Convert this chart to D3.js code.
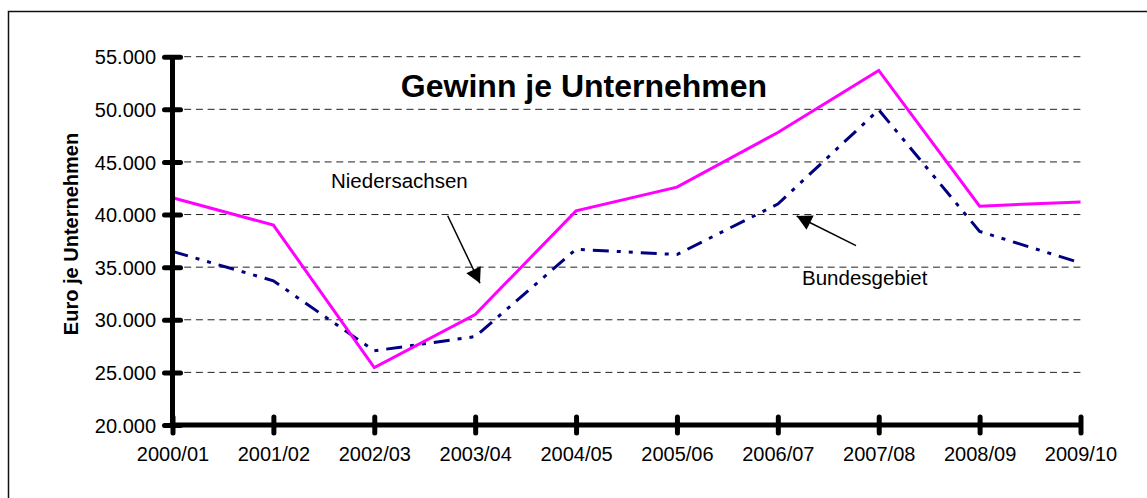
<!DOCTYPE html>
<html>
<head>
<meta charset="utf-8">
<script src="https://d3js.org/d3.v7.min.js"></script>
<style>
  body { margin: 0; background: #fff; }
  text { font-family: Arial, "Liberation Sans", sans-serif; fill: #000; }
</style>
</head>
<body>
<script>
// Werte
var years = ["2000/01", "2001/02", "2002/03", "2003/04", "2004/05",
             "2005/06", "2006/07", "2007/08", "2008/09", "2009/10"];
var niedersachsen = [41600, 39000, 25450, 30500, 40350, 42600, 47800, 53700, 40800, 41200];
var bundesgebiet  = [36500, 33700, 27050, 28400, 36700, 36200, 41000, 49950, 38400, 35400];
var yTicks = [20000, 25000, 30000, 35000, 40000, 45000, 50000, 55000];

var width = 1147, height = 498;

var svg = d3.select("body").append("svg")
    .attr("width", width)
    .attr("height", height);

// Rahmen (rechts/unten ausserhalb des Bildes)
svg.append("rect")
    .attr("x", 8.5).attr("y", 11.5)
    .attr("width", 1300).attr("height", 700)
    .attr("fill", "none")
    .attr("stroke", "#111")
    .attr("stroke-width", 1.5);

var x = d3.scalePoint().domain(years).range([172.5, 1080.5]);
var y = d3.scaleLinear().domain([20000, 55000]).range([425, 56.7]);

// deutsches Zahlenformat: 55.000
function yLabel(d) { return (d / 1000) + ".000"; }

// Gitterlinien
svg.append("g").selectAll("line")
    .data(yTicks.slice(1))
    .enter().append("line")
    .attr("x1", x(years[0])).attr("x2", x(years[years.length - 1]))
    .attr("y1", d => y(d)).attr("y2", d => y(d))
    .attr("stroke", "#222")
    .attr("stroke-width", 1)
    .attr("stroke-dasharray", "7,4.7");

// Linien
var line = d3.line()
    .x((d, i) => x(years[i]))
    .y(d => y(d));

svg.append("path")
    .datum(bundesgebiet)
    .attr("d", line)
    .attr("fill", "none")
    .attr("stroke", "#000080")
    .attr("stroke-width", 3)
    .attr("stroke-dasharray", "16,8,4,8,4,8");

svg.append("path")
    .datum(niedersachsen)
    .attr("d", line)
    .attr("fill", "none")
    .attr("stroke", "#ff00ff")
    .attr("stroke-width", 3)
    .attr("stroke-linejoin", "miter");

// Achsen
var yAxis = svg.append("g")
    .attr("transform", "translate(" + x(years[0]) + ",0)")
    .call(d3.axisLeft(y).tickValues(yTicks).tickSize(8).tickFormat(yLabel));
yAxis.select(".domain").remove();
yAxis.selectAll(".tick line")
    .attr("x1", 8).attr("x2", -8)
    .attr("stroke", "#000").attr("stroke-width", 5).attr("stroke-linecap", "round");
yAxis.selectAll(".tick text")
    .attr("x", -16.5)
    .attr("dy", "0.36em")
    .style("font-size", "20px");

var xAxis = svg.append("g")
    .attr("transform", "translate(0," + y(20000) + ")")
    .call(d3.axisBottom(x).tickSize(8));
xAxis.select(".domain").remove();
xAxis.selectAll(".tick line")
    .attr("y1", -8).attr("y2", 8)
    .attr("stroke", "#000").attr("stroke-width", 5).attr("stroke-linecap", "round");
xAxis.selectAll(".tick text")
    .attr("y", 22)
    .attr("dy", "0.71em")
    .style("font-size", "20px");

svg.append("line")
    .attr("x1", x(years[0])).attr("x2", x(years[0]))
    .attr("y1", y(55000)).attr("y2", y(20000))
    .attr("stroke", "#000").attr("stroke-width", 5);
svg.append("line")
    .attr("x1", x(years[0])).attr("x2", x(years[years.length - 1]))
    .attr("y1", y(20000)).attr("y2", y(20000))
    .attr("stroke", "#000").attr("stroke-width", 5);

// Titel
svg.append("text")
    .attr("x", 584).attr("y", 97)
    .attr("text-anchor", "middle")
    .style("font-size", "32px")
    .style("font-weight", "bold")
    .text("Gewinn je Unternehmen");

svg.append("text")
    .attr("transform", "translate(78,234) rotate(-90)")
    .attr("text-anchor", "middle")
    .style("font-size", "20px")
    .style("font-weight", "bold")
    .text("Euro je Unternehmen");

// Beschriftungen mit Pfeilen
svg.append("defs").append("marker")
    .attr("id", "head")
    .attr("markerUnits", "userSpaceOnUse")
    .attr("viewBox", "-16 -9 17 18")
    .attr("refX", 0).attr("refY", 0)
    .attr("markerWidth", 17).attr("markerHeight", 18)
    .attr("orient", "auto")
  .append("path")
    .attr("d", "M0,0L-15,-8L-15,8Z")
    .attr("fill", "#000");

svg.append("text")
    .attr("x", 331).attr("y", 188)
    .style("font-size", "20.5px")
    .text("Niedersachsen");
svg.append("line")
    .attr("x1", 447.7).attr("y1", 215.7)
    .attr("x2", 480).attr("y2", 283.3)
    .attr("stroke", "#000").attr("stroke-width", 1.5)
    .attr("marker-end", "url(#head)");

svg.append("text")
    .attr("x", 802).attr("y", 285)
    .style("font-size", "20.5px")
    .text("Bundesgebiet");
svg.append("line")
    .attr("x1", 856).attr("y1", 245.7)
    .attr("x2", 796.7).attr("y2", 216)
    .attr("stroke", "#000").attr("stroke-width", 1.5)
    .attr("marker-end", "url(#head)");
</script>
</body>
</html>
